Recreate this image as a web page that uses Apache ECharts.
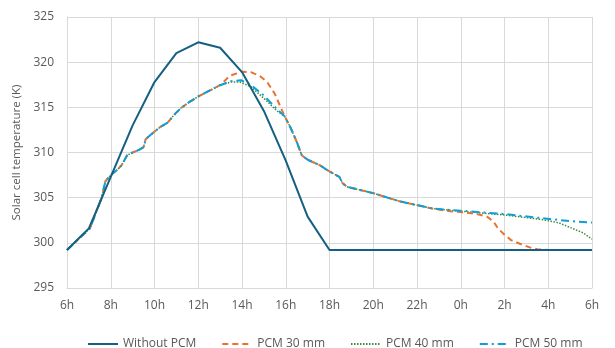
<!DOCTYPE html>
<html>
<head>
<meta charset="utf-8">
<script src="https://cdn.jsdelivr.net/npm/echarts@6/dist/echarts.min.js"></script>
<style>
  html, body { margin: 0; padding: 0; background: #ffffff; }
  #chart { width: 615px; height: 348px; }
</style>
</head>
<body>
<div id="chart"></div>
<script>
// hours counted from 6h (0 = 6h, 24 = 6h next day)
const tickLabels = ['6h','8h','10h','12h','14h','16h','18h','20h','22h','0h','2h','4h','6h'];
const seriesNames = ['Without PCM', 'PCM 30 mm', 'PCM 40 mm', 'PCM 50 mm'];

const withoutPCM = [
  [0,299.2],[1,301.6],[2,307.3],[3,313.0],[4,317.8],[5,321.0],[6,322.2],
  [7,321.6],[8,318.9],[9,314.6],[10,309.1],[11,302.9],[12,299.2],[24,299.2]
];

const pcmRise = [
  [0,299.2],[0.3,299.9],[0.6,300.6],[1.05,301.6],[1.35,303.5],[1.6,305.1],
  [1.75,306.8],[2.0,307.5],[2.3,308.1],[2.5,308.6],[2.75,309.7],[3.0,310.0],
  [3.3,310.3],[3.5,310.6],[3.6,311.5],[3.8,311.9],[4.25,312.8],[4.6,313.3],
  [4.95,314.3],[5.2,314.9],[5.6,315.6],[6.0,316.2],[6.4,316.7],[7.0,317.45]
];

const pcm30Peak = [
  [7.45,318.5],[8.0,318.95],[8.4,318.9],[8.8,318.5],[9.15,317.8],[9.5,316.5],[9.75,315.1],[9.95,314.0]
];
const pcm40Peak = [
  [7.5,317.8],[7.9,317.8],[8.4,317.3],[9.0,316.0],[9.6,314.6],[9.95,314.0]
];
const pcm50Peak = [
  [7.5,317.9],[7.95,318.0],[8.4,317.5],[9.0,316.3],[9.6,314.8],[9.95,314.0]
];

const pcmFall = [
  [10.2,312.85],[10.5,311.2],[10.73,309.7],[11.0,309.2],[11.55,308.6],[12.0,307.9],
  [12.45,307.3],[12.6,306.6],[12.8,306.2],[14.0,305.5],[15.2,304.6],[16.7,303.8]
];

const pcm30Night = [
  [17.5,303.5],[18.0,303.4],[18.7,303.2],[19.2,302.9],[19.5,302.35],[19.7,301.6],[20.0,300.9],
  [20.3,300.3],[20.7,299.9],[21.15,299.5],[21.5,299.3],[22.0,299.2],[24,299.2]
];
const pcm40Night = [
  [18.0,303.5],[19.95,303.1],[21.3,302.7],[21.8,302.55],[22.5,302.2],[23.1,301.6],[23.6,301.1],[24,300.4]
];
const pcm50Night = [
  [18.0,303.55],[19.95,303.2],[20.7,303.0],[22.2,302.6],[23.0,302.4],[24,302.25]
];

const pcm30 = pcmRise.concat(pcm30Peak, pcmFall, pcm30Night);
const pcm40 = pcmRise.concat(pcm40Peak, pcmFall, pcm40Night);
const pcm50 = pcmRise.concat(pcm50Peak, pcmFall, pcm50Night);

const FONT = 'Open Sans';
const chart = echarts.init(document.getElementById('chart'), null, { renderer: 'canvas' });

function lineSeries(name, data, color, width, type, z) {
  return {
    name: name, type: 'line', data: data, symbol: 'none', showSymbol: false,
    smooth: false, z: z,
    lineStyle: { color: color, width: width, type: type },
    itemStyle: { color: color }
  };
}

chart.setOption({
  animation: false,
  backgroundColor: '#ffffff',
  grid: { left: 67, right: 23, top: 17, bottom: 60 },
  xAxis: {
    type: 'value', min: 0, max: 24, interval: 2,
    axisLine: { show: true, lineStyle: { color: '#d9d9d9', width: 1 } },
    axisTick: { show: false },
    splitLine: { show: true, lineStyle: { color: '#d9d9d9', width: 1 } },
    axisLabel: {
      color: '#595959', fontFamily: FONT, fontSize: 12, margin: 12,
      formatter: function (v) { return tickLabels[Math.round(v / 2)]; }
    }
  },
  yAxis: {
    type: 'value', min: 295, max: 325, interval: 5,
    name: 'Solar cell temperature (K)', nameLocation: 'middle', nameGap: 34,
    nameTextStyle: { color: '#595959', fontFamily: FONT, fontSize: 11.5 },
    axisLine: { show: true, lineStyle: { color: '#d9d9d9', width: 1 } },
    axisTick: { show: false },
    splitLine: { show: true, lineStyle: { color: '#d9d9d9', width: 1 } },
    axisLabel: { color: '#595959', fontFamily: FONT, fontSize: 12, margin: 13 }
  },
  legend: {
    data: seriesNames, left: 82, top: 333,
    itemWidth: 30, itemHeight: 10, itemGap: 25,
    itemStyle: { opacity: 0 },
    textStyle: { color: '#595959', fontFamily: FONT, fontSize: 12 }
  },
  series: [
    lineSeries(seriesNames[0], withoutPCM, '#156082', 2, 'solid', 4),
    lineSeries(seriesNames[1], pcm30, '#E97132', 2, [6, 4], 3),
    lineSeries(seriesNames[2], pcm40, '#3d8a3f', 1.5, [1.5, 1.5], 2),
    lineSeries(seriesNames[3], pcm50, '#0F9ED5', 2, [8, 4, 2, 4], 3)
  ]
});
</script>
</body>
</html>
